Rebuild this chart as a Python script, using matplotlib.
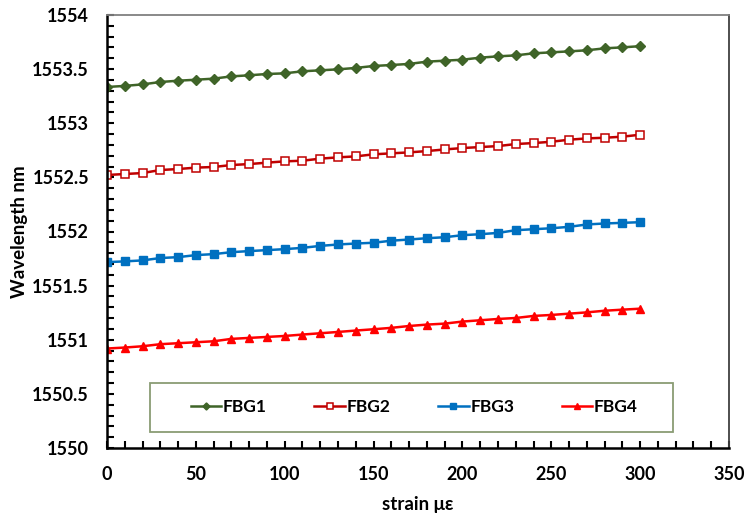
import matplotlib
matplotlib.use("Agg")
from matplotlib import pyplot as plt
from matplotlib.patches import Rectangle
from matplotlib.ticker import MultipleLocator

plt.rcParams['font.family'] = ['Lato', 'DejaVu Sans']

# strain in micro-strain, 0..300 step 10
strain = [0, 10, 20, 30, 40, 50, 60, 70, 80, 90, 100, 110, 120, 130, 140, 150,
          160, 170, 180, 190, 200, 210, 220, 230, 240, 250, 260, 270, 280, 290, 300]

fbg1 = [1553.335, 1553.345, 1553.359, 1553.381, 1553.393, 1553.402, 1553.412, 1553.433,
        1553.443, 1553.455, 1553.461, 1553.480, 1553.489, 1553.498, 1553.511, 1553.529,
        1553.538, 1553.548, 1553.569, 1553.578, 1553.587, 1553.606, 1553.618, 1553.627,
        1553.646, 1553.655, 1553.664, 1553.674, 1553.692, 1553.701, 1553.712]
fbg2 = [1552.522, 1552.531, 1552.540, 1552.568, 1552.577, 1552.590, 1552.596, 1552.614,
        1552.623, 1552.636, 1552.648, 1552.654, 1552.673, 1552.685, 1552.694, 1552.713,
        1552.722, 1552.731, 1552.743, 1552.758, 1552.771, 1552.780, 1552.789, 1552.808,
        1552.817, 1552.829, 1552.848, 1552.860, 1552.866, 1552.876, 1552.894]
fbg3 = [1551.717, 1551.724, 1551.733, 1551.755, 1551.763, 1551.782, 1551.791, 1551.809,
        1551.819, 1551.828, 1551.837, 1551.849, 1551.867, 1551.880, 1551.889, 1551.896,
        1551.915, 1551.926, 1551.938, 1551.947, 1551.966, 1551.975, 1551.987, 1552.012,
        1552.021, 1552.030, 1552.043, 1552.065, 1552.074, 1552.080, 1552.086]
fbg4 = [1550.919, 1550.928, 1550.940, 1550.959, 1550.968, 1550.977, 1550.986, 1551.008,
        1551.017, 1551.026, 1551.035, 1551.048, 1551.060, 1551.072, 1551.085, 1551.097,
        1551.110, 1551.127, 1551.140, 1551.149, 1551.168, 1551.180, 1551.192, 1551.201,
        1551.220, 1551.229, 1551.241, 1551.253, 1551.268, 1551.278, 1551.287]

fig = plt.figure(figsize=(7.45, 5.13), dpi=100)
ax = fig.add_axes([107 / 745, 65 / 513, 622 / 745, 433 / 513])

ax.plot(strain, fbg1, color='#3F6428', marker='D', markersize=4.8, lw=1.8, label='FBG1')
ax.plot(strain, fbg2, color='#C00000', marker='s', markersize=5.5, mfc='white',
        mec='#C00000', mew=1.1, lw=1.8, label='FBG2')
ax.plot(strain, fbg3, color='#0070C0', marker='s', markersize=5.5, lw=1.8, label='FBG3')
ax.plot(strain, fbg4, color='#FF0000', marker='^', markersize=6.3, lw=1.8, label='FBG4')

ax.set_xlim(0, 350)
ax.set_ylim(1550, 1554)
ax.xaxis.set_major_locator(MultipleLocator(50))
ax.xaxis.set_minor_locator(MultipleLocator(10))
ax.yaxis.set_minor_locator(MultipleLocator(0.1))
ax.set_yticks([1550, 1550.5, 1551, 1551.5, 1552, 1552.5, 1553, 1553.5, 1554])
ax.set_yticklabels(['1550', '1550.5', '1551', '1551.5', '1552', '1552.5', '1553', '1553.5', '1554'])

ax.tick_params(which='both', direction='in', width=1.5, color='black', labelsize=13)
ax.tick_params(which='both', length=5)
ax.tick_params(axis='x', pad=13)
ax.tick_params(axis='y', pad=13)
for lbl in ax.get_xticklabels() + ax.get_yticklabels():
    lbl.set_fontweight('bold')

ax.spines['left'].set_linewidth(1.8)
ax.spines['bottom'].set_linewidth(1.8)
ax.spines['top'].set_color('#808080')
ax.spines['top'].set_linewidth(1.3)
ax.spines['right'].set_color('#404040')
ax.spines['right'].set_linewidth(1.3)

ax.set_xlabel('strain \u03bc\u03b5', fontsize=13.5, fontweight='bold', labelpad=9)
ax.set_ylabel('Wavelength nm', fontsize=13.5, fontweight='bold', labelpad=3)

# legend box drawn separately, entries centred inside it
box = Rectangle((43 / 622, 16 / 433), 523 / 622, 49 / 433, transform=ax.transAxes,
                facecolor='white', edgecolor='#8A9C74', lw=1.3, zorder=4)
ax.add_patch(box)
leg = ax.legend(loc='center', bbox_to_anchor=(0.494, 40.5 / 433), ncol=4, frameon=False,
                handlelength=1.75, handletextpad=0.1, columnspacing=2.75,
                prop={'weight': 'bold', 'size': 12.5}, markerscale=0.75)
leg.set_zorder(5)

fig.savefig('out.png', dpi=100)
